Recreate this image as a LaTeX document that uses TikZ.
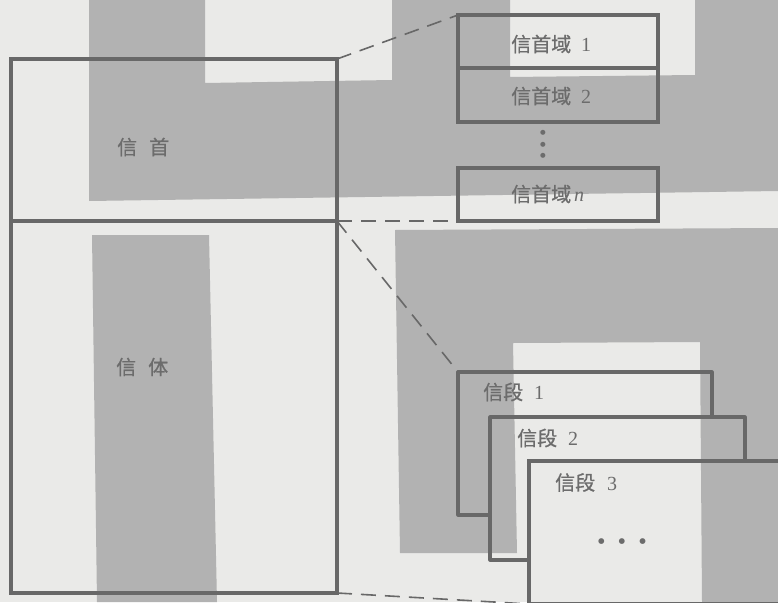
\documentclass[tikz,border=0pt]{standalone}
\usepackage{fontspec}
\setmainfont{Liberation Serif}
\newfontfamily\cjk[FakeBold=0.7]{Noto Sans CJK SC}
\newfontfamily\symf{DejaVu Sans}
\definecolor{bgc}{RGB}{234,234,232}
\definecolor{pat}{RGB}{178,178,178}
\definecolor{ln}{RGB}{104,104,104}
\definecolor{tx}{RGB}{108,108,108}
\begin{document}
\begin{tikzpicture}[x=1pt,y=-1pt,
  box/.style={rectangle,draw=ln,line width=3.1pt,inner sep=0pt,outer sep=0pt},
  ghost/.style={rectangle,inner sep=0pt,outer sep=0pt},
  edge/.style={draw=ln,line width=3.1pt,line join=round},
  link/.style={draw=ln,line width=1.6pt,dash pattern=on 15pt off 9pt},
  lab/.style={text=tx,anchor=west,inner sep=0pt,font=\fontsize{20}{24}\selectfont},
  dots/.style={text=tx,inner sep=0pt,align=center}]
\useasboundingbox (0,0) rectangle (778,602);
\clip (0,0) rectangle (778,602);
% background and printed pattern
\fill[bgc] (0,0) rectangle (778,602);
\fill[pat] (89,0) -- (205,0) -- (205,83) -- (392,80) -- (392,0) -- (510,0) -- (510,77)
  -- (695,75) -- (695,0) -- (778,0) -- (778,191) -- (89,201) -- cycle;
\fill[pat] (92,235) -- (209,235) -- (217,602) -- (97,602) -- cycle;
\fill[pat] (395,230) -- (778,228) -- (778,602) -- (702,602) -- (700,342) -- (513,343)
  -- (517,553) -- (400,553) -- cycle;
% boxes
\node[box, minimum width=326pt, minimum height=162pt] (head) at (174,140) {};
\node[box, minimum width=326pt, minimum height=372pt] (body) at (174,407) {};
\node[box, minimum width=200pt, minimum height=53pt] (f1) at (558,41.5) {};
\node[box, minimum width=200pt, minimum height=54pt] (f2) at (558,95) {};
\node[box, minimum width=200pt, minimum height=53pt] (fn) at (558,194.5) {};
\node[ghost, minimum width=254pt, minimum height=143pt] (s1) at (585,443.5) {};
\node[ghost, minimum width=255pt, minimum height=143pt] (s2) at (617.5,488.5) {};
\node[box, minimum width=254pt, minimum height=143pt] (s3) at (656,532.5) {};
\draw[edge] (s1.south west -| s2.west) -- (s1.south west) -- (s1.north west)
  -- (s1.north east) -- (s1.north east |- s2.north);
\draw[edge] (s2.south west -| s3.west) -- (s2.south west) -- (s2.north west)
  -- (s2.north east) -- (s2.north east |- s3.north);
% dashed links
\draw[link] (head.north east) -- (f1.north west);
\draw[link] (head.south east) -- (fn.south west);
\draw[link] (head.south east) -- (s1.north west);
\draw[link] (body.south east) -- (s3.south west);
% labels
\node[lab] (thead) at (117,147) {\cjk 信\hspace{12pt}首};
\node[lab] (tbody) at (116,367) {\cjk 信\hspace{12pt}体};
\node[lab] (t1) at (511,44) {{\cjk 信首域}\hspace{10pt}1};
\node[lab] (t2) at (511,96) {{\cjk 信首域}\hspace{10pt}2};
\node[lab] (tn) at (511,194) {{\cjk 信首域}\hspace{3pt}\textit{n}};
\node[lab] (ts1) at (483,392) {{\cjk 信段}\hspace{11pt}1};
\node[lab] (ts2) at (517,438) {{\cjk 信段}\hspace{11pt}2};
\node[lab] (ts3) at (555,482.5) {{\cjk 信段}\hspace{12pt}3};
\node[dots, font=\symf\fontsize{6.5}{11.5}\selectfont] (vd) at (543,144.5) {●\\●\\●};
\node[dots, font=\symf\fontsize{7.5}{9}\selectfont] (hd) at (622,542) {●\hspace{14pt}●\hspace{14pt}●};
\end{tikzpicture}
\end{document}
